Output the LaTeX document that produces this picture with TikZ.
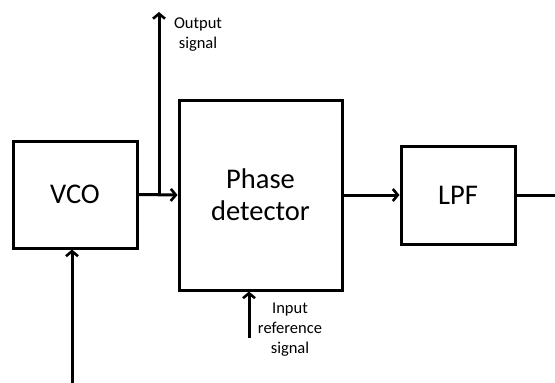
\documentclass[tikz,border=0pt]{standalone}
\usepackage{fontspec}
\setmainfont{Carlito}
\usetikzlibrary{arrows.meta}
\begin{document}
\begin{tikzpicture}[x=1pt,y=-1pt,
  blk/.style={draw,line width=3pt,inner sep=0pt,align=center,font=\fontsize{28.5}{32}\selectfont},
  lbl/.style={align=center,inner sep=0pt,font=\fontsize{16.5}{20}\selectfont},
  conn/.style={line width=3pt},
  arr/.style={conn,-{Straight Barb[length=5pt,width=12pt,line width=2.6pt]}}]
\useasboundingbox (0,0) rectangle (555,383);
\node[blk,minimum width=124pt,minimum height=107pt] (vco) at (75,194.5) {VCO};
\node[blk,minimum width=163pt,minimum height=190pt] (pd) at (260.5,195) {Phase\\detector};
\node[blk,minimum width=114pt,minimum height=98pt] (lpf) at (458,195) {LPF};
\coordinate (br) at (159,195);
\coordinate (outend) at (159,12);
\coordinate (inref) at (249,338);
\coordinate (vcoin) at (72,383);
\coordinate (lpfout) at (556,195);
\draw[arr] (vco.east) -- (pd.west);
\draw[arr] (br) -- (outend);
\draw[arr] (pd.east) -- (lpf.west);
\draw[conn] (lpf.east) -- (lpfout);
\draw[arr] (inref) -- (inref |- pd.south);
\draw[arr] (vcoin) -- (vcoin |- vco.south);
\node[lbl] (outlbl) at (198,35) {Output\\signal};
\node[lbl] (inlbl) at (290,330) {Input\\reference\\signal};
\end{tikzpicture}
\end{document}
